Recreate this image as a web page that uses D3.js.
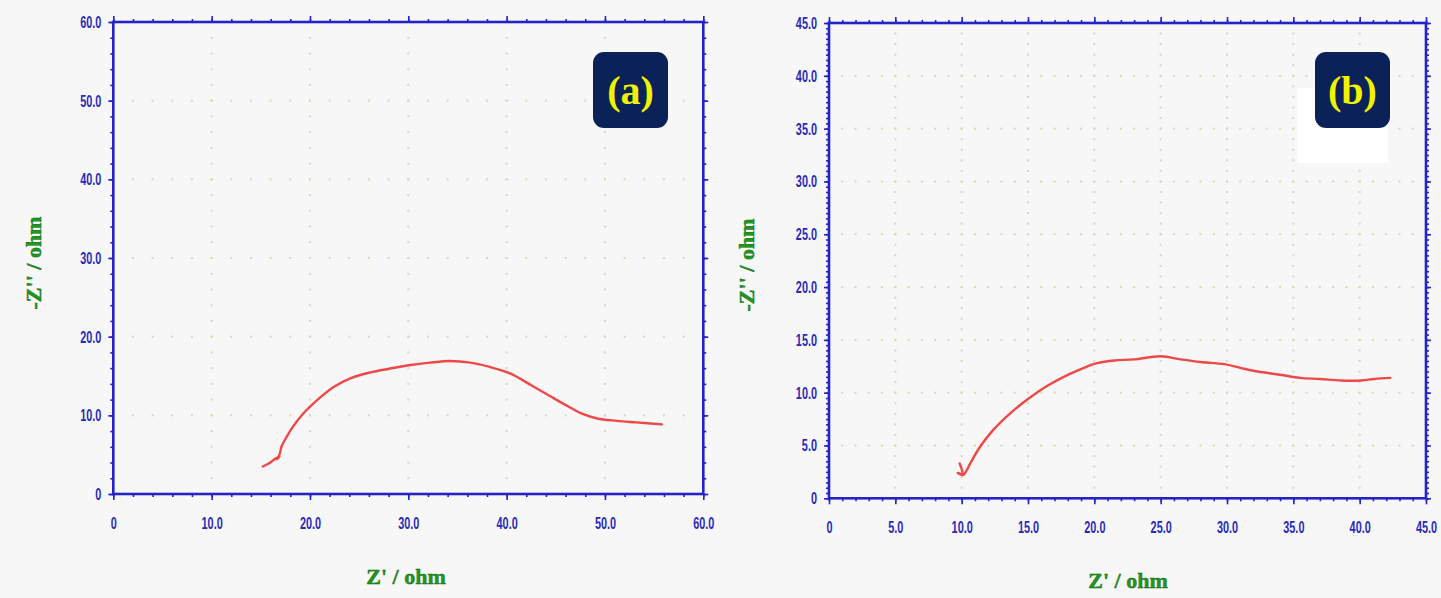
<!DOCTYPE html>
<html>
<head>
<meta charset="utf-8">
<script src="https://cdn.jsdelivr.net/npm/d3@7"></script>
<style>
  body { margin: 0; background: #f7f7f7; }
  svg { display: block; }
  .tick text { font-family: "Liberation Sans", sans-serif; font-size: 17px; font-weight: bold; fill: #2a2ab8; }
  .domain { stroke: none; }
  .tick line { stroke: #2323c8; stroke-width: 1.6; }
</style>
</head>
<body>
<script>
// panel (a) impedance data, Z' vs -Z''
var aZre = [15.2, 15.9, 16.5, 16.9, 16.6, 16.9, 17.1, 17.6, 18.15, 19.3, 20.7, 22.4, 24.1, 26.1, 28.15, 30.2, 32.2, 34.25, 36.3, 38.3, 40.4, 42.4, 44.4, 46.45, 47.8, 49.2, 51.2, 53.2, 55.8];
var aZim = [3.5, 3.95, 4.5, 4.75, 4.4, 5.0, 6.0, 7.2, 8.35, 10.2, 11.9, 13.6, 14.7, 15.45, 15.95, 16.4, 16.7, 16.9, 16.7, 16.15, 15.3, 13.9, 12.45, 11.0, 10.15, 9.6, 9.3, 9.1, 8.85];
// panel (b)
var bZre = [9.85, 10.05, 9.7, 10.1, 10.4, 10.65, 11.4, 12.4, 13.66, 14.9, 16.4, 18.2, 19.5, 20.2, 21.5, 23.0, 25.0, 26.5, 28.0, 29.8, 31.0, 32.3, 34.0, 35.5, 37.0, 38.6, 40.1, 41.1, 42.3];
var bZim = [3.3, 2.3, 2.4, 2.2, 2.7, 3.3, 4.9, 6.5, 8.05, 9.3, 10.6, 11.8, 12.5, 12.8, 13.05, 13.15, 13.45, 13.15, 12.9, 12.7, 12.35, 12.0, 11.7, 11.4, 11.3, 11.15, 11.15, 11.3, 11.4];

var aTicks = [0, 10, 20, 30, 40, 50, 60];
var bTicks = [0, 5, 10, 15, 20, 25, 30, 35, 40, 45];
var fmt = function (d) { return d === 0 ? "0" : d.toFixed(1); };

var svg = d3.select("body").append("svg").attr("width", 1441).attr("height", 598);

// squeeze tick labels to look like a condensed face
function narrow(sel) {
  sel.selectAll(".tick text").each(function () {
    var w = this.getComputedTextLength();
    d3.select(this).attr("textLength", w * 0.64).attr("lengthAdjust", "spacingAndGlyphs");
  });
}

function panel(p) {
  var x = d3.scaleLinear().domain([0, p.max]).range(p.xr);
  var y = d3.scaleLinear().domain([0, p.max]).range(p.yr);
  var g = svg.append("g");

  // dotted grid
  var grid = g.append("g").attr("fill", "#d9d9b4");
  p.ticks.slice(1, -1).forEach(function (t) {
    d3.range(p.dot, p.max, p.dot).forEach(function (v) {
      grid.append("rect").attr("x", x(v) - 1).attr("y", y(t) - 1).attr("width", 2).attr("height", 2);
      grid.append("rect").attr("x", x(t) - 1).attr("y", y(v) - 1).attr("width", 2).attr("height", 2);
    });
  });

  if (p.patch) {
    g.append("rect").attr("x", p.patch[0]).attr("y", p.patch[1])
      .attr("width", p.patch[2]).attr("height", p.patch[3]).attr("fill", "#ffffff");
  }

  var minX = d3.range(0, p.max + 0.001, p.xMinor);
  var minY = d3.range(0, p.max + 0.001, p.yMinor);
  var y0 = p.yr[0], y1 = p.yr[1], x0 = p.xr[0], x1 = p.xr[1];

  // minor ticks
  g.append("g").attr("transform", "translate(0," + y0 + ")")
    .call(d3.axisBottom(x).tickValues(minX).tickFormat("").tickSize(3));
  g.append("g").attr("transform", "translate(0," + y1 + ")")
    .call(d3.axisTop(x).tickValues(minX).tickFormat("").tickSize(3));
  g.append("g").attr("transform", "translate(" + x0 + ",0)")
    .call(d3.axisLeft(y).tickValues(minY).tickFormat("").tickSize(3));
  g.append("g").attr("transform", "translate(" + x1 + ",0)")
    .call(d3.axisRight(y).tickValues(minY).tickFormat("").tickSize(3));

  // major ticks + labels
  g.append("g").attr("transform", "translate(0," + y0 + ")")
    .call(d3.axisBottom(x).tickValues(p.ticks).tickFormat(fmt).tickSize(6).tickPadding(17))
    .call(narrow);
  g.append("g").attr("transform", "translate(0," + y1 + ")")
    .call(d3.axisTop(x).tickValues(p.ticks).tickFormat("").tickSize(6));
  g.append("g").attr("transform", "translate(" + x0 + ",0)")
    .call(d3.axisLeft(y).tickValues(p.ticks).tickFormat(fmt).tickSize(5).tickPadding(7))
    .call(narrow);
  g.append("g").attr("transform", "translate(" + x1 + ",0)")
    .call(d3.axisRight(y).tickValues(p.ticks).tickFormat("").tickSize(5));

  // frame
  g.append("rect").attr("x", x0).attr("y", y1).attr("width", x1 - x0).attr("height", y0 - y1)
    .attr("fill", "none").attr("stroke", "#2323c8").attr("stroke-width", 2.6);

  // curve
  var pts = p.zre.map(function (v, i) { return [v, p.zim[i]]; });
  g.append("path").datum(pts)
    .attr("fill", "none").attr("stroke", "#ee4848").attr("stroke-width", 2.4)
    .attr("stroke-linejoin", "round").attr("stroke-linecap", "round")
    .attr("d", d3.line().x(function (d) { return x(d[0]); }).y(function (d) { return y(d[1]); })
      .curve(d3.curveCatmullRom.alpha(0.5)));

  // axis titles
  g.append("text").attr("x", p.xt[0]).attr("y", p.xt[1]).attr("text-anchor", "middle")
    .attr("font-family", "Liberation Serif, Times New Roman, serif").attr("font-weight", "bold")
    .attr("font-size", 22).attr("fill", "#1c9a1c").attr("stroke", "#0d5a0d").attr("stroke-width", 0.4)
    .text("Z' / ohm");
  g.append("text").attr("transform", "translate(" + p.yt[0] + "," + p.yt[1] + ") rotate(-90)")
    .attr("text-anchor", "middle")
    .attr("font-family", "Liberation Serif, Times New Roman, serif").attr("font-weight", "bold")
    .attr("font-size", 22).attr("fill", "#1c9a1c").attr("stroke", "#0d5a0d").attr("stroke-width", 0.4)
    .text("-Z'' / ohm");

  // badge
  g.append("rect").attr("x", p.badge[0]).attr("y", 52).attr("width", 75).attr("height", 76)
    .attr("rx", 11).attr("fill", "#0b2259");
  g.append("text").attr("x", p.badge[0] + 37.5).attr("y", 104).attr("text-anchor", "middle")
    .attr("font-family", "Liberation Serif, Times New Roman, serif").attr("font-weight", "bold")
    .attr("font-size", 40).attr("fill", "#f2f200").text(p.label);
}

panel({
  max: 60, ticks: aTicks, xr: [113.3, 703.3], yr: [494, 22],
  xMinor: 2, yMinor: 2, dot: 2,
  zre: aZre, zim: aZim,
  xt: [406, 584], yt: [41, 263],
  badge: [593], label: "(a)"
});

panel({
  max: 45, ticks: bTicks, xr: [829, 1426], yr: [498.3, 23],
  xMinor: 1, yMinor: 0.5, dot: 1,
  zre: bZre, zim: bZim,
  xt: [1128, 588], yt: [754, 265],
  badge: [1315], label: "(b)", patch: [1297, 88, 91, 75]
});
</script>
</body>
</html>
